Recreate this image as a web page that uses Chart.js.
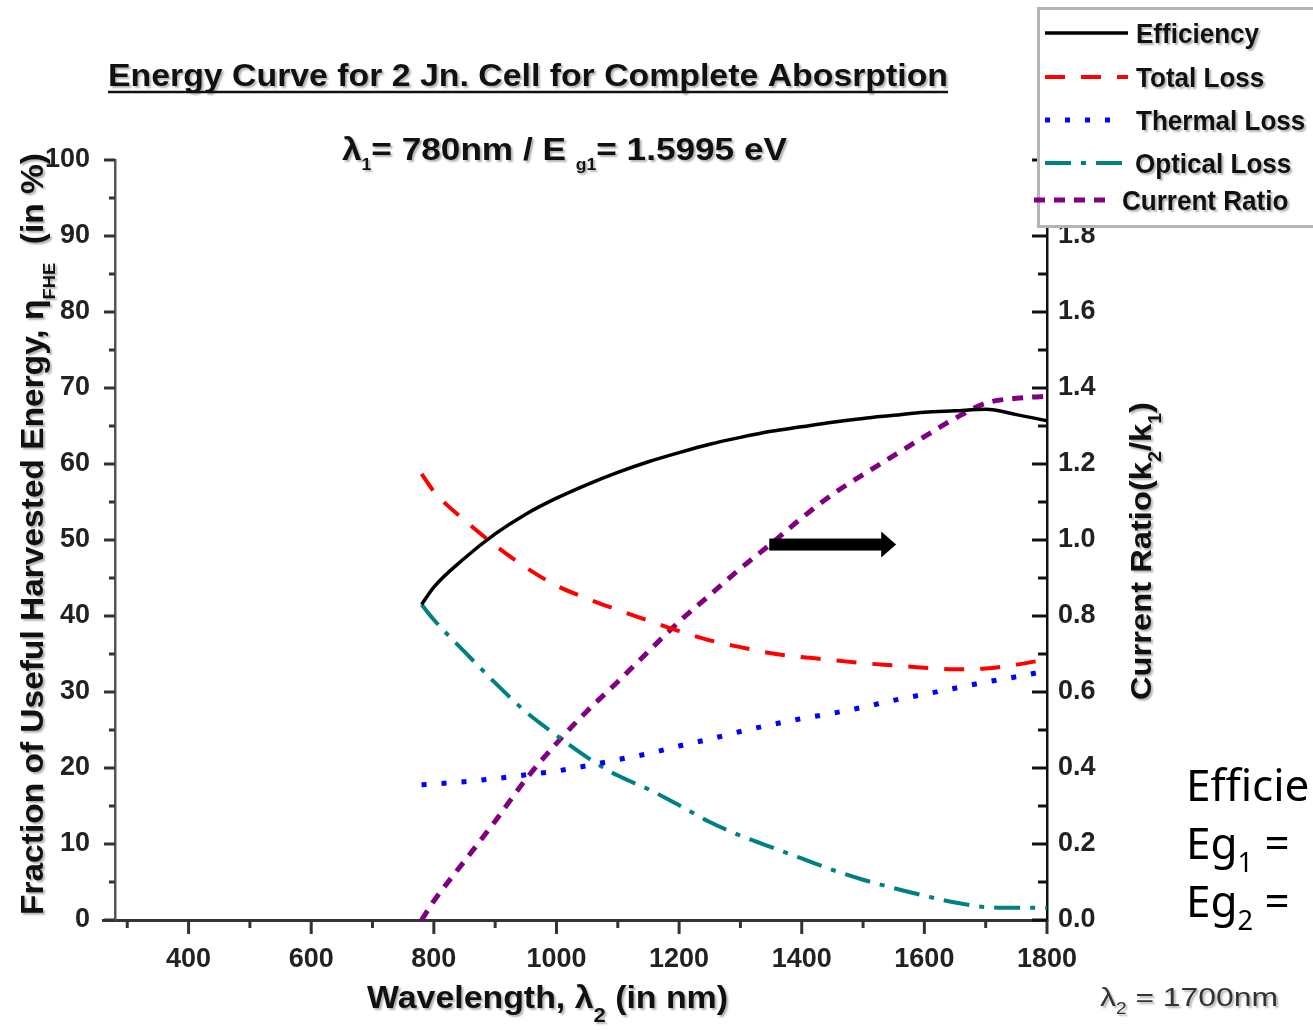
<!DOCTYPE html>
<html>
<head>
<meta charset="utf-8">
<script src="https://cdn.jsdelivr.net/npm/chart.js@4.4.0/dist/chart.umd.min.js"></script>
<style>
  html, body { margin: 0; padding: 0; background: #fff; }
  #wrap { width: 1313px; height: 1030px; position: relative; overflow: hidden; }
</style>
</head>
<body>
<div id="wrap"><canvas id="chart"></canvas></div>
<script>
// wavelength λ2 (nm)
const wavelength = [780, 800, 850, 900, 950, 1000, 1050, 1100, 1150, 1200, 1250,
                    1300, 1350, 1400, 1450, 1500, 1550, 1600, 1650, 1700, 1750, 1800];

// series (left axis, %)
const efficiency  = [41.5, 43.8, 47.6, 50.8, 53.4, 55.5, 57.3, 58.9, 60.3, 61.5, 62.6,
                     63.5, 64.3, 64.9, 65.5, 66.0, 66.4, 66.8, 67.0, 67.2, 66.5, 65.7];
const totalLoss   = [58.7, 56.4, 52.6, 49.3, 46.4, 44.0, 42.3, 40.8, 39.4, 38.0, 36.8,
                     35.9, 35.1, 34.6, 34.2, 33.8, 33.5, 33.2, 33.0, 33.1, 33.6, 34.3];
const thermalLoss = [17.8, 17.9, 18.2, 18.6, 19.1, 19.6, 20.3, 21.1, 21.9, 22.9, 23.8,
                     24.8, 25.7, 26.5, 27.2, 28.0, 28.9, 29.7, 30.5, 31.3, 32.0, 32.8];
const opticalLoss = [41.5, 39.5, 35.3, 31.2, 27.4, 24.3, 21.4, 19.0, 17.2, 15.1, 12.9,
                     11.1, 9.6, 8.1, 6.6, 5.3, 4.2, 3.2, 2.3, 1.7, 1.6, 1.6];
// right axis, k2/k1
const currentRatio = [0.0, 0.05, 0.155, 0.26, 0.37, 0.465, 0.55, 0.627, 0.707, 0.785, 0.855,
                      0.925, 0.99, 1.058, 1.12, 1.172, 1.222, 1.272, 1.32, 1.36, 1.373, 1.378];

// tick labels
const xTicks  = [400, 600, 800, 1000, 1200, 1400, 1600, 1800];
const yTicks  = [0, 10, 20, 30, 40, 50, 60, 70, 80, 90, 100];
const y2Ticks = [0.0, 0.2, 0.4, 0.6, 0.8, 1.0, 1.2, 1.4, 1.6, 1.8];

// arrow annotation (data units: nm, %)
const arrowFrom = 1347, arrowTo = 1554, arrowLevel = 49.4;

const SANS = '"Liberation Sans", Arial, sans-serif';
const tickFont = { family: SANS, size: 27, weight: 'bold' };

function pts(arr) {
    return wavelength.map((w, i) => ({ x: w, y: arr[i] }));
}

// text with subscripts, o.width squeezes it to a given length
function drawRich(ctx, parts, o) {
    const weight = o.weight || 'bold';
    const family = o.family || SANS;
    const subSize = o.size * (o.subScale || 0.6);
    let w = 0;
    parts.forEach(p => {
        ctx.font = `${weight} ${p.sub ? subSize : o.size}px ${family}`;
        p.w = ctx.measureText(p.t).width;
        w += p.w;
    });
    const sx = o.width ? o.width / w : (o.sx || 1);
    ctx.save();
    ctx.translate(o.x, o.y);
    if (o.rot) ctx.rotate(o.rot);
    ctx.scale(sx, 1);
    ctx.fillStyle = o.color || '#111';
    ctx.textAlign = 'left';
    ctx.textBaseline = 'alphabetic';
    if (o.shadow !== false) {
        ctx.shadowColor = 'rgba(0,0,0,0.3)';
        ctx.shadowOffsetX = 2;
        ctx.shadowOffsetY = 2;
        ctx.shadowBlur = 2;
    }
    let x = o.align === 'center' ? -w / 2 : 0;
    parts.forEach(p => {
        ctx.font = `${weight} ${p.sub ? subSize : o.size}px ${family}`;
        ctx.fillText(p.t, x, p.sub ? (o.subDy || o.size * 0.3) : 0);
        x += p.w;
    });
    ctx.restore();
}

function line(ctx, x1, y1, x2, y2) {
    ctx.beginPath();
    ctx.moveTo(x1, y1);
    ctx.lineTo(x2, y2);
    ctx.stroke();
}

const decorPlugin = {
    id: 'decor',
    afterDraw(chart) {
        const { ctx, chartArea: a, scales: { x, y, y2 } } = chart;
        ctx.save();

        // axis ticks, Origin style
        ctx.strokeStyle = '#333';
        ctx.lineWidth = 3;
        line(ctx, 102, a.bottom + 0.5, a.left, a.bottom + 0.5);
        xTicks.forEach(v => {
            let px = x.getPixelForValue(v);
            line(ctx, px, a.bottom, px, a.bottom + 14);
            px = x.getPixelForValue(v - 100);
            line(ctx, px, a.bottom, px, a.bottom + 8);
        });
        yTicks.forEach(v => {
            let py = y.getPixelForValue(v);
            line(ctx, a.left, py, a.left - 11, py);
            if (v < 100) {
                py = y.getPixelForValue(v + 5);
                line(ctx, a.left, py, a.left - 6, py);
            }
        });
        ctx.strokeStyle = '#111';
        y2Ticks.concat([2.0]).forEach(v => {
            let py = y2.getPixelForValue(v);
            line(ctx, a.right, py, a.right - 15, py);
            if (v < 2) {
                py = y2.getPixelForValue(v + 0.1);
                line(ctx, a.right, py, a.right - 9, py);
            }
        });

        // arrow
        const ax1 = x.getPixelForValue(arrowFrom);
        const ax2 = x.getPixelForValue(arrowTo);
        const ay = y.getPixelForValue(arrowLevel);
        ctx.fillStyle = '#000';
        ctx.fillRect(ax1, ay - 6, ax2 - ax1 - 14, 12);
        ctx.beginPath();
        ctx.moveTo(ax2 - 15, ay - 13);
        ctx.lineTo(ax2, ay);
        ctx.lineTo(ax2 - 15, ay + 13);
        ctx.closePath();
        ctx.fill();

        // legend box
        ctx.fillStyle = '#fff';
        ctx.fillRect(1037, 8, 300, 219);
        ctx.strokeStyle = '#b4b4b4';
        ctx.lineWidth = 3;
        ctx.strokeRect(1038.5, 8.5, 300, 218);
        const rows = [
            { y: 33, x1: 1045, x2: 1128, tx: 1136 },
            { y: 77, x1: 1045, x2: 1128, tx: 1136 },
            { y: 120, x1: 1045, x2: 1120, tx: 1136 },
            { y: 163, x1: 1045, x2: 1126, tx: 1135 },
            { y: 200, x1: 1034, x2: 1110, tx: 1122 }
        ];
        chart.data.datasets.forEach((ds, i) => {
            const r = rows[i];
            ctx.save();
            ctx.strokeStyle = ds.borderColor;
            ctx.lineWidth = ds.borderWidth;
            ctx.setLineDash(ds.borderDash || []);
            line(ctx, r.x1, r.y, r.x2, r.y);
            ctx.restore();
            drawRich(ctx, [{ t: ds.label }], { x: r.tx, y: r.y + 10, size: 28, sx: 0.93 });
        });

        // titles
        drawRich(ctx, [{ t: 'Energy Curve for 2 Jn. Cell for Complete Abosrption' }],
            { x: 108, y: 86, size: 31, width: 840 });
        ctx.strokeStyle = '#111';
        ctx.lineWidth = 2.5;
        line(ctx, 108, 92, 948, 92);
        drawRich(ctx, [{ t: 'λ' }, { t: '1', sub: true }, { t: '= 780nm / E ' },
                       { t: 'g1', sub: true }, { t: '= 1.5995 eV' }],
            { x: 342, y: 160, size: 32, width: 445, subScale: 0.5, subDy: 10 });

        // axis titles
        drawRich(ctx, [{ t: 'Fraction of Useful Harvested Energy, η' }, { t: 'FHE', sub: true },
                       { t: '  (in %)' }],
            { x: 43, y: 534, rot: -Math.PI / 2, align: 'center', size: 31, width: 762,
              subScale: 0.55, subDy: 12 });
        drawRich(ctx, [{ t: 'Wavelength, λ' }, { t: '2', sub: true }, { t: ' (in nm)' }],
            { x: 367, y: 1008, size: 31, width: 361, subScale: 0.65, subDy: 14 });
        drawRich(ctx, [{ t: 'Current Ratio(k' }, { t: '2', sub: true }, { t: '/k' },
                       { t: '1', sub: true }, { t: ')' }],
            { x: 1151, y: 551, rot: -Math.PI / 2, align: 'center', size: 30, width: 298,
              subScale: 0.6, subDy: 10 });

        // side notes
        drawRich(ctx, [{ t: 'λ' }, { t: '2', sub: true }, { t: ' = 1700nm' }],
            { x: 1100, y: 1006, size: 26, width: 178, weight: 'normal',
              family: '"Liberation Sans Narrow", "Liberation Sans", sans-serif', color: '#333',
              subDy: 8 });
        const cal = { x: 1186, size: 44, weight: 'normal', family: '"Noto Sans", "Open Sans", sans-serif',
                      color: '#000', shadow: false, subScale: 0.62, subDy: 13 };
        drawRich(ctx, [{ t: 'Efficiency' }], Object.assign({}, cal, { y: 801 }));
        drawRich(ctx, [{ t: 'Eg' }, { t: '1', sub: true }, { t: ' =' }], Object.assign({}, cal, { y: 859 }));
        drawRich(ctx, [{ t: 'Eg' }, { t: '2', sub: true }, { t: ' =' }], Object.assign({}, cal, { y: 917 }));

        ctx.restore();
    }
};

new Chart(document.getElementById('chart').getContext('2d'), {
    type: 'line',
    data: {
        datasets: [{
            label: 'Efficiency',
            data: pts(efficiency),
            borderColor: '#000000',
            borderWidth: 3.5,
            yAxisID: 'y'
        }, {
            label: 'Total Loss',
            data: pts(totalLoss),
            borderColor: '#ff0000',
            borderWidth: 4,
            borderDash: [20, 16],
            yAxisID: 'y'
        }, {
            label: 'Thermal Loss',
            data: pts(thermalLoss),
            borderColor: '#0000ff',
            borderWidth: 5,
            borderDash: [5, 15],
            yAxisID: 'y'
        }, {
            label: 'Optical Loss',
            data: pts(opticalLoss),
            borderColor: '#008080',
            borderWidth: 4,
            borderDash: [26, 10, 5, 10],
            yAxisID: 'y'
        }, {
            label: 'Current Ratio',
            data: pts(currentRatio),
            borderColor: '#800080',
            borderWidth: 5,
            borderDash: [11, 9],
            yAxisID: 'y2'
        }]
    },
    options: {
        responsive: true,
        maintainAspectRatio: false,
        animation: false,
        layout: { padding: { top: 160, left: 0, right: 0, bottom: 0 } },
        elements: {
            point: { radius: 0 },
            line: { cubicInterpolationMode: 'monotone', fill: false }
        },
        plugins: {
            legend: { display: false },
            tooltip: { enabled: false }
        },
        scales: {
            x: {
                type: 'linear',
                min: 280,
                max: 1800,
                afterFit(s) { s.height = 110; },
                afterBuildTicks(s) { s.ticks = xTicks.map(v => ({ value: v })); },
                grid: { display: false },
                border: { display: true, color: '#333', width: 3 },
                ticks: { font: tickFont, color: '#222', padding: 15, maxRotation: 0, autoSkip: false,
                         callback: v => String(v) }
            },
            y: {
                position: 'left',
                min: 0,
                max: 100,
                afterFit(s) { s.width = 115; },
                afterBuildTicks(s) { s.ticks = yTicks.map(v => ({ value: v })); },
                grid: { display: false },
                border: { display: true, color: '#555', width: 2.5 },
                ticks: { font: tickFont, color: '#222', padding: 17, autoSkip: false,
                         callback: v => String(v) }
            },
            y2: {
                position: 'right',
                min: 0,
                max: 2,
                afterFit(s) { s.width = 266; },
                afterBuildTicks(s) { s.ticks = y2Ticks.map(v => ({ value: v })); },
                grid: { display: false },
                border: { display: true, color: '#111', width: 2.5 },
                ticks: { font: tickFont, color: '#222', padding: 3, autoSkip: false,
                         callback: v => Number(v).toFixed(1) }
            }
        }
    },
    plugins: [decorPlugin]
});
</script>
</body>
</html>
